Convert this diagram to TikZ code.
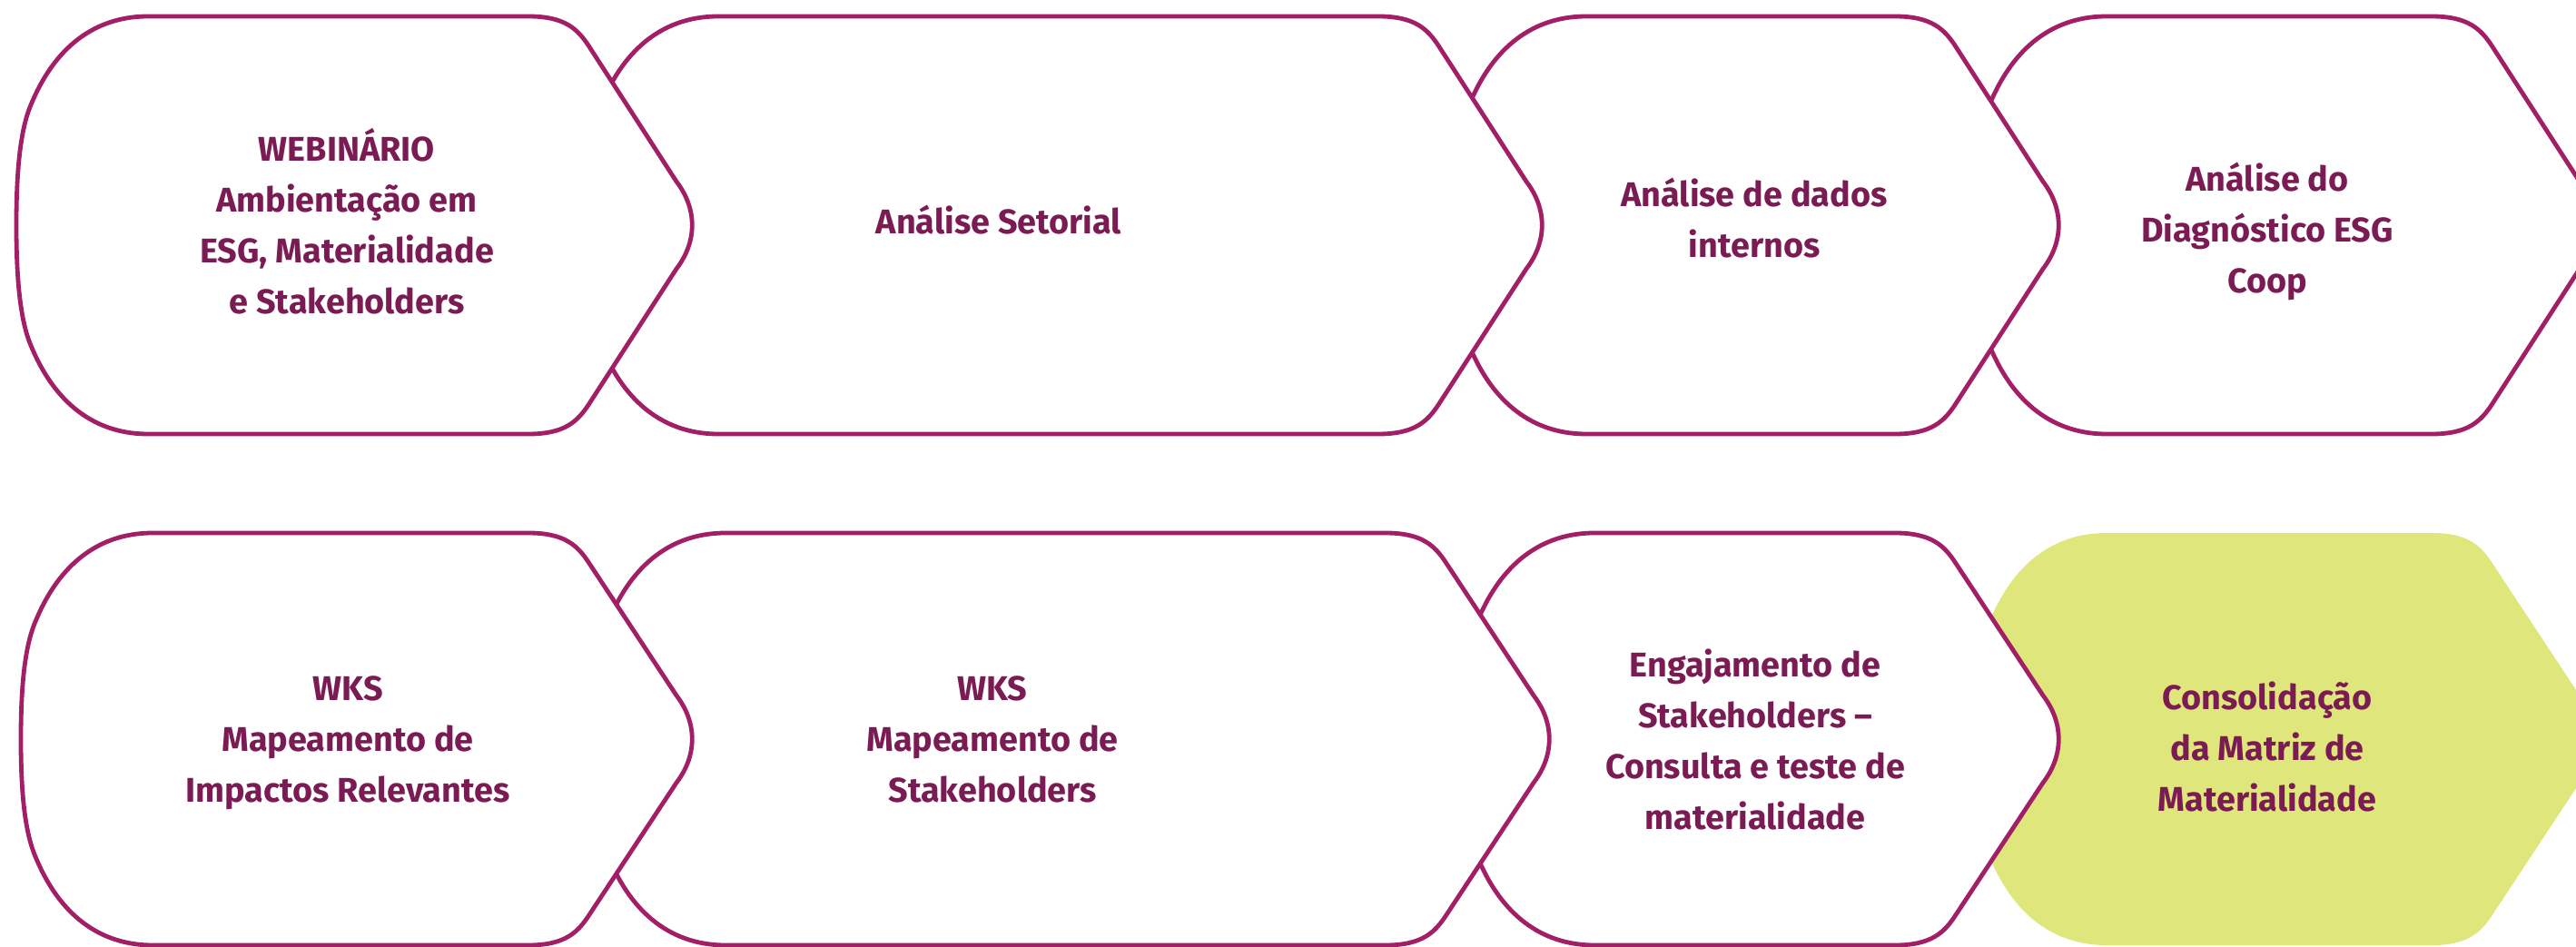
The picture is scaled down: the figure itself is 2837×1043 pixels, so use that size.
\documentclass[tikz,border=0pt]{standalone}
\usepackage{fontspec}
\setmainfont{Fira Sans}
\definecolor{strokec}{RGB}{162,31,103}
\definecolor{textc}{RGB}{123,27,84}
\definecolor{greenc}{RGB}{223,230,123}
\tikzset{
  stepbox/.style={draw=strokec, line width=4.8pt, fill=white, line join=round},
  stepgreen/.style={fill=greenc},
  steplabel/.style={text=textc, align=center, inner sep=0pt,
    font=\fontsize{37.8}{56}\selectfont\bfseries}
}
% #1 style, #2 L (start of top edge), #3 E (end of top edge), #4 top y, #5 bottom y
\newcommand\stepshape[5]{%
  \path[#1] (#2,#4) -- (#3,#4)
   .. controls ({#3+40},#4) and ({#3+54},{#4+14}) .. ({#3+66},{#4+32})
   -- ({#3+163},{(#4+#5)/2-48})
   .. controls ({#3+186},{(#4+#5)/2-18}) and ({#3+186},{(#4+#5)/2+18}) .. ({#3+163},{(#4+#5)/2+48})
   -- ({#3+66},{#5-32})
   .. controls ({#3+54},{#5-14}) and ({#3+40},#5) .. (#3,#5)
   -- (#2,#5)
   .. controls ({#2-50},#5) and ({#2-100},{#5-25}) .. ({#2-130},{#5-100})
   .. controls ({#2-142},{#5-130}) and ({#2-145},{(#4+#5)/2+50}) .. ({#2-145},{(#4+#5)/2})
   .. controls ({#2-145},{(#4+#5)/2-50}) and ({#2-142},{#4+130}) .. ({#2-130},{#4+100})
   .. controls ({#2-100},{#4+25}) and ({#2-50},#4) .. (#2,#4) -- cycle;%
}
\begin{document}
\begin{tikzpicture}[x=1pt,y=-1pt]
\useasboundingbox (0,0) rectangle (2837,1043);
\clip (0,0) rectangle (2837,1043);
% row 1 (drawn right to left so each step overlaps the next)
\stepshape{stepbox}{2320}{2678}{18}{478}
\stepshape{stepbox}{1747}{2087}{18}{478}
\stepshape{stepbox}{791}{1518}{18}{478}
\stepshape{stepbox}{163}{582}{18}{478}
% row 2
\stepshape{stepgreen}{2320}{2678}{587}{1041}
\stepshape{stepbox}{1756}{2087}{587}{1041}
\stepshape{stepbox}{799}{1526}{587}{1041}
\stepshape{stepbox}{168}{582}{587}{1041}
% labels row 1
\node[steplabel] (t1) at (382,250.3) {\strut WEBINÁRIO\\Ambientação em\\ESG, Materialidade\\e Stakeholders\strut};
\node[steplabel] (t2) at (1100,246.8) {\strut Análise Setorial\strut};
\node[steplabel] (t3) at (1932,244.3) {\strut Análise de dados\\internos\strut};
\node[steplabel] (t4) at (2497,254.8) {\strut Análise do\\Diagnóstico ESG\\Coop\strut};
% labels row 2
\node[steplabel] (t5) at (383,816.3) {\strut WKS\\Mapeamento de\\Impactos Relevantes\strut};
\node[steplabel] (t6) at (1093,816.3) {\strut WKS\\Mapeamento de\\Stakeholders\strut};
\node[steplabel] (t7) at (1933,818.3) {\strut Engajamento de\\Stakeholders –\\Consulta e teste de\\materialidade\strut};
\node[steplabel] (t8) at (2497,826.3) {\strut Consolidação\\da Matriz de\\Materialidade\strut};
\end{tikzpicture}
\end{document}
